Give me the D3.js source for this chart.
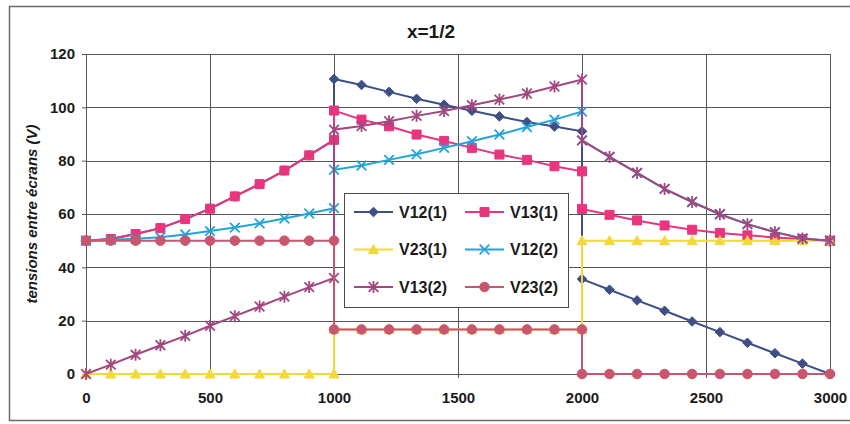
<!DOCTYPE html>
<html>
<head>
<meta charset="utf-8">
<script src="https://cdn.jsdelivr.net/npm/d3@7"></script>
<style>
  html, body { margin: 0; padding: 0; background: #ffffff; }
  svg { display: block; }
  text { font-family: Arial, "Liberation Sans", sans-serif; }
</style>
</head>
<body>
<svg id="chart" width="850" height="424"></svg>
<script>
// ---------- DATA ----------
const title = "x=1/2";
const yAxisTitle = "tensions entre écrans (V)";
const seriesNames = ["V12(1)", "V13(1)", "V23(1)", "V12(2)", "V13(2)", "V23(2)"];
const xValues = [0, 100, 200, 300, 400, 500, 600, 700, 800, 900, 1000,
                 1000, 1111, 1222, 1333, 1444, 1556, 1667, 1778, 1889, 2000,
                 2000, 2111, 2222, 2333, 2444, 2556, 2667, 2778, 2889, 3000];
const v12_1 = [50, 50.6, 52.5, 54.7, 58.1, 62.0, 66.6, 71.2, 76.3, 82.0, 87.8,
               110.6, 108.4, 105.8, 103.2, 101.0, 98.7, 96.6, 94.5, 92.8, 91.0,
               35.6, 31.6, 27.6, 23.7, 19.7, 15.7, 11.7, 7.8, 3.9, 0];
const v13_1 = [50, 50.6, 52.5, 54.7, 58.1, 62.0, 66.6, 71.2, 76.3, 82.0, 87.8,
               98.8, 95.4, 92.9, 89.8, 87.4, 84.8, 82.3, 80.3, 77.9, 76.0,
               61.9, 59.7, 57.6, 55.7, 54.1, 52.9, 52.0, 51.2, 50.6, 50.0];
const v23_1 = [0, 0, 0, 0, 0, 0, 0, 0, 0, 0, 0,
               16.7, 16.7, 16.7, 16.7, 16.7, 16.7, 16.7, 16.7, 16.7, 16.7,
               50, 50, 50, 50, 50, 50, 50, 50, 50, 50];
const v12_2 = [50, 50.3, 50.7, 51.3, 52.3, 53.6, 54.9, 56.5, 58.3, 60.2, 62.2,
               76.6, 78.2, 80.3, 82.4, 84.8, 87.3, 89.8, 92.6, 95.4, 98.4,
               87.6, 81.4, 75.4, 69.4, 64.5, 59.9, 56.2, 53.2, 50.8, 50.0];
const v13_2 = [0, 3.5, 7.2, 10.8, 14.3, 18.1, 21.7, 25.3, 29.0, 32.6, 36.0,
               91.6, 93.0, 94.8, 96.8, 98.6, 100.8, 102.9, 105.2, 107.8, 110.4,
               87.6, 81.4, 75.4, 69.4, 64.5, 59.9, 56.2, 53.2, 50.8, 50.0];
const v23_2 = [50, 50, 50, 50, 50, 50, 50, 50, 50, 50, 50,
               16.7, 16.7, 16.7, 16.7, 16.7, 16.7, 16.7, 16.7, 16.7, 16.7,
               0, 0, 0, 0, 0, 0, 0, 0, 0, 0];
const xTicks = [0, 500, 1000, 1500, 2000, 2500, 3000];
const yTicks = [0, 20, 40, 60, 80, 100, 120];

// ---------- STYLE ----------
const seriesValues = [v12_1, v13_1, v23_1, v12_2, v13_2, v23_2];
const colors = ["#3e4f86", "#e8357e", "#f2d83a", "#22a3dc", "#a2487f", "#c9566f"];
const markers = ["diamond", "square", "triangle", "x", "star", "circle"];

const svg = d3.select("#chart");
const plot = { left: 86, right: 830, top: 54, bottom: 374 };

const x = d3.scaleLinear().domain([0, 3000]).range([plot.left, plot.right]);
const y = d3.scaleLinear().domain([0, 120]).range([plot.bottom, plot.top]);

// outer chart frame
svg.append("path")
  .attr("d", `M852,6.5 L9.5,6.5 L9.5,420.5 L852,420.5`)
  .attr("fill", "none").attr("stroke", "#6a6a6a").attr("stroke-width", 1.5);

// title
svg.append("text")
  .attr("x", 431).attr("y", 38)
  .attr("text-anchor", "middle")
  .attr("font-size", 19).attr("font-weight", "bold")
  .attr("fill", "#1a1a1a")
  .text(title);

// plot background
svg.append("rect")
  .attr("x", plot.left).attr("y", plot.top)
  .attr("width", plot.right - plot.left).attr("height", plot.bottom - plot.top)
  .attr("fill", "#ffffff");

// gridlines
const grid = svg.append("g").attr("stroke", "#555555").attr("stroke-width", 1);
yTicks.forEach(t => grid.append("line")
  .attr("x1", plot.left).attr("x2", plot.right)
  .attr("y1", Math.round(y(t)) + 0.5).attr("y2", Math.round(y(t)) + 0.5));
xTicks.forEach(t => grid.append("line")
  .attr("y1", plot.top).attr("y2", plot.bottom)
  .attr("x1", Math.round(x(t)) + 0.5).attr("x2", Math.round(x(t)) + 0.5));

// plot border
svg.append("rect")
  .attr("x", plot.left + 0.5).attr("y", plot.top + 0.5)
  .attr("width", plot.right - plot.left).attr("height", plot.bottom - plot.top)
  .attr("fill", "none").attr("stroke", "#555555").attr("stroke-width", 1);

// axes
const yAxis = d3.axisLeft(y).tickValues(yTicks).tickSize(4).tickPadding(7)
  .tickFormat(d3.format("d"));
const gy = svg.append("g").attr("transform", `translate(${plot.left},0)`).call(yAxis);
const xAxis = d3.axisBottom(x).tickValues(xTicks).tickSize(4).tickPadding(14)
  .tickFormat(d3.format("d"));
const gx = svg.append("g").attr("transform", `translate(0,${plot.bottom})`).call(xAxis);
[gx, gy].forEach(g => {
  g.select(".domain").remove();
  g.selectAll(".tick line").attr("stroke", "#555555");
  g.selectAll(".tick text")
    .attr("font-family", "Arial, 'Liberation Sans', sans-serif")
    .attr("font-size", 15).attr("font-weight", "bold").attr("fill", "#1a1a1a");
});

// y axis title
svg.append("text")
  .attr("transform", `translate(37,${(plot.top + plot.bottom) / 2}) rotate(-90)`)
  .attr("text-anchor", "middle")
  .attr("font-size", 15).attr("font-weight", "bold").attr("font-style", "italic")
  .attr("fill", "#1a1a1a")
  .text(yAxisTitle);

// marker paths
function markerPath(type) {
  switch (type) {
    case "diamond": return "M0,-4.8L4.8,0L0,4.8L-4.8,0Z";
    case "square": return "M-4.5,-4.5H4.5V4.5H-4.5Z";
    case "triangle": return "M0,-5L5,4L-5,4Z";
    case "x": return "M-4.8,-4.8L4.8,4.8M-4.8,4.8L4.8,-4.8";
    case "star": return "M-4.8,-4.8L4.8,4.8M-4.8,4.8L4.8,-4.8M0,-6V6";
    case "circle": return d3.symbol(d3.symbolCircle, 72)();
  }
}
function drawMarker(g, type, color, cx, cy) {
  const open = (type === "x" || type === "star");
  g.append("path")
    .attr("d", markerPath(type))
    .attr("transform", `translate(${cx},${cy})`)
    .attr("fill", open ? "none" : color)
    .attr("stroke", color)
    .attr("stroke-width", open ? 1.8 : 1);
}

// series
const line = d3.line().x(d => x(d[0])).y(d => y(d[1]));
seriesValues.forEach((vals, i) => {
  const pts = xValues.map((xv, k) => [xv, vals[k]]);
  const g = svg.append("g");
  g.append("path").attr("d", line(pts))
    .attr("fill", "none").attr("stroke", colors[i]).attr("stroke-width", 2);
  pts.forEach(p => drawMarker(g, markers[i], colors[i], x(p[0]), y(p[1])));
});

// legend
const lg = svg.append("g");
lg.append("rect").attr("x", 344.5).attr("y", 193.5).attr("width", 224).attr("height", 114)
  .attr("fill", "#ffffff").attr("stroke", "#4a4a4a").attr("stroke-width", 1);
seriesNames.forEach((name, i) => {
  const col = i % 2, row = Math.floor(i / 2);
  const lx = col === 0 ? 354 : 465;
  const ly = 212 + row * 37.5;
  lg.append("line").attr("x1", lx).attr("x2", lx + 39).attr("y1", ly).attr("y2", ly)
    .attr("stroke", colors[i]).attr("stroke-width", 2);
  drawMarker(lg, markers[i], colors[i], lx + 19.5, ly);
  lg.append("text").attr("x", lx + 45).attr("y", ly + 5.5)
    .attr("font-size", 16).attr("font-weight", "bold").attr("fill", "#1a1a1a")
    .text(name);
});
</script>
</body>
</html>
